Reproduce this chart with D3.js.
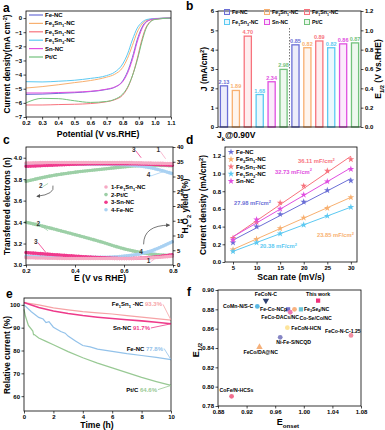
<!DOCTYPE html>
<html><head><meta charset="utf-8">
<script src="https://cdn.jsdelivr.net/npm/d3@7"></script>
<style>
body{margin:0;background:#fff}
svg{display:block}
text{font-family:"Liberation Sans",Arial,sans-serif;font-weight:bold}
</style>
</head><body>
<svg id="fig" width="385" height="430"></svg>
<script>
// ---------- data ----------
const samples = ['Fe-NC', 'Fe_{3}Sn_{1}-NC', 'Fe_{1}Sn_{1}-NC', 'Fe_{1}Sn_{3}-NC', 'Sn-NC', 'Pt/C'];
const sampleColors = ['#6b6fd6', '#f8b070', '#f7737d', '#5cc9f2', '#e04fe0', '#72c27c'];

// a: LSV curves
const lsvV = [0.2, 0.3, 0.4, 0.5, 0.6, 0.7, 0.75, 0.8, 0.83, 0.86, 0.89, 0.92, 0.95, 1.0, 1.1];
const lsvFeNC   = [-5.4, -5.38, -5.33, -5.28, -5.2, -5.05, -4.9, -4.45, -3.8, -2.8, -1.55, -0.65, -0.22, -0.05, 0];
const lsvFe3Sn1 = [-4.95, -4.85, -4.72, -4.57, -4.42, -4.18, -3.98, -3.5, -2.85, -1.95, -1.0, -0.42, -0.15, -0.04, 0];
const lsvFe1Sn1 = [-6.15, -6.15, -6.12, -6.1, -6.05, -5.92, -5.78, -5.45, -4.95, -4.1, -2.9, -1.5, -0.55, -0.08, 0];
const lsvFe1Sn3 = [-4.5, -4.52, -4.47, -4.4, -4.27, -4.07, -3.83, -3.25, -2.55, -1.55, -0.72, -0.3, -0.1, -0.03, 0];
const lsvSnNC   = [-5.3, -5.3, -5.27, -5.24, -5.18, -5.03, -4.88, -4.5, -3.9, -2.95, -1.7, -0.75, -0.25, -0.05, 0];
const lsvPtC    = [-6.0, -5.68, -5.7, -5.85, -5.97, -5.9, -5.75, -5.38, -4.9, -4.1, -3.0, -1.65, -0.62, -0.1, 0];
const lsvAll = [lsvFeNC, lsvFe3Sn1, lsvFe1Sn1, lsvFe1Sn3, lsvSnNC, lsvPtC];

// b: kinetic current and half-wave potential
const jk090 = [2.13, 1.89, 4.70, 1.68, 2.34, 2.98];
const e12 = [0.85, 0.82, 0.89, 0.82, 0.86, 0.87];

// c: RRDE electron number and H2O2 yield
const rrdeV = [0.2, 0.3, 0.4, 0.5, 0.6, 0.7, 0.8];
const cNames = ['1-Fe_{1}Sn_{1}-NC', '2-Pt/C', '3-Sn-NC', '4-Fe-NC'];
const cColors = ['#f6a9c4', '#9ccfa6', '#f0388c', '#a9d1f2'];
const nFe1Sn1 = [3.95, 3.955, 3.955, 3.955, 3.955, 3.95, 3.945];
const nPtC    = [3.78, 3.83, 3.865, 3.89, 3.915, 3.93, 3.925];
const nSnNC   = [3.92, 3.93, 3.94, 3.945, 3.945, 3.94, 3.93];
const nFeNC   = [3.94, 3.94, 3.94, 3.94, 3.935, 3.91, 3.85];
const hFe1Sn1 = [2.5, 2.3, 2.2, 2.2, 2.2, 2.4, 3.0];
const hPtC    = [14.5, 12.5, 10.3, 8.0, 5.5, 3.8, 3.2];
const hSnNC   = [4.2, 3.6, 3.0, 2.5, 2.2, 2.5, 3.5];
const hFeNC   = [3.0, 2.7, 2.6, 2.6, 3.0, 4.5, 8.0];
const nAll = [nFe1Sn1, nPtC, nSnNC, nFeNC];
const hAll = [hFe1Sn1, hPtC, hSnNC, hFeNC];

// d: double layer capacitance
const scanRates = [5, 10, 15, 20, 25, 30];
const dlFeNC   = [0.22, 0.40, 0.54, 0.68, 0.81, 0.92];
const dlFe3Sn1 = [0.14, 0.26, 0.38, 0.50, 0.61, 0.73];
const dlFe1Sn1 = [0.27, 0.45, 0.67, 0.86, 1.03, 1.16];
const dlFe1Sn3 = [0.12, 0.22, 0.32, 0.42, 0.52, 0.62];
const dlSnNC   = [0.25, 0.48, 0.60, 0.76, 0.91, 1.05];
const dlAll = [dlFeNC, dlFe3Sn1, dlFe1Sn1, dlFe1Sn3, dlSnNC];
const cdlText = ['27.98', '23.85', '36.11', '20.38', '32.73'];

// e: chronoamperometry
const eFe1Sn1T = [0, 1, 2, 3, 4, 5, 6, 7, 8, 9, 10];
const eFe1Sn1  = [101, 100, 98.7, 97.8, 97, 96.5, 96, 95.3, 94.6, 94, 93.3];
const eSnNCT   = [0, 1, 2, 3, 4, 5, 6, 7, 8, 9, 10];
const eSnNC    = [101, 98.8, 97.3, 96.2, 95.3, 94.6, 94, 93.5, 93, 92.4, 91.7];
const eFeNCT   = [0, 0.5, 1, 1.3, 1.5, 1.7, 2, 2.5, 2.8, 3, 3.5, 4, 4.5, 5, 6, 7, 8, 9, 10];
const eFeNC    = [100, 97, 94.5, 93.8, 92.2, 92.6, 90.2, 88.3, 87.6, 86.3, 84.2, 82.2, 81.6, 80.6, 79.6, 78.6, 77.8, 77, 76];
const ePtCT    = [0, 0.1, 0.3, 0.6, 0.65, 0.7, 1, 1.5, 2, 3, 4, 5, 6, 7, 8, 9, 10];
const ePtC     = [98, 95, 91, 88.5, 87, 87, 85.5, 84, 82.5, 79.5, 76.8, 74.5, 72.4, 70.3, 68.2, 66.4, 64.7];
const eNames = ['Fe_{1}Sn_{1} -NC', 'Sn-NC', 'Fe-NC', 'Pt/C'];
const eRetention = ['93.3%', '91.7%', '77.8%', '64.6%'];

// f: comparison with literature
const fNames = ['FeCoN-C', 'This work', 'CoMn-N/S-C', 'Fe-Co-NCp', 'FeCo-DACs/NC', 'Co-Se/Co/NC',
  'Fe_{3}Se_{4}/NC', 'FeCoN-HCN', 'Ni-Fe-S/NCQD', 'FeCo/DA@NC', 'FeCo-N-C-1.25', 'CoFe/N-HCSs'];
const fEonset = [0.947, 1.02, 0.935, 0.978, 0.981, 0.987, 0.996, 0.977, 0.967, 0.938, 1.066, 0.899];
const fE12 = [0.889, 0.889, 0.883, 0.880, 0.877, 0.880, 0.880, 0.861, 0.851, 0.841, 0.853, 0.790];

// ---------- helpers ----------
const svg = d3.select('#fig');

function rich(t, str, fs) {
  const parts = str.split(/([_^]\{[^}]*\})/);
  let shift = 0;
  parts.forEach(p => {
    if (!p) return;
    const m = p.match(/^([_^])\{(.*)\}$/);
    if (m) {
      const d = m[1] === '_' ? fs * 0.3 : -fs * 0.4;
      t.append('tspan').attr('dy', d - shift).attr('font-size', fs * 0.68).text(m[2]);
      shift = d;
    } else {
      t.append('tspan').attr('dy', -shift).attr('font-size', fs).text(p);
      shift = 0;
    }
  });
  return t;
}

function label(g, x, y, str, fs, opts = {}) {
  const t = g.append('text').attr('x', x).attr('y', y)
    .attr('font-size', fs).attr('fill', opts.fill || '#000')
    .attr('text-anchor', opts.anchor || 'start');
  return rich(t, str, fs);
}

function vtitle(g, x, y, str, fs = 8.5) {
  const t = g.append('text').attr('transform', `translate(${x},${y}) rotate(-90)`)
    .attr('font-size', fs).attr('text-anchor', 'middle');
  return rich(t, str, fs);
}

function frame(g, xs, ys) {
  const [x0, x1] = xs.range();
  const [y0, y1] = ys.range();
  g.append('rect').attr('x', x0).attr('y', y1).attr('width', x1 - x0).attr('height', y0 - y1)
    .attr('fill', 'none').attr('stroke', '#000').attr('stroke-width', 0.8);
}

function styleAxis(a) {
  a.select('.domain').remove();
  a.selectAll('text').attr('font-size', 6).attr('font-weight', 'bold')
    .attr('font-family', '"Liberation Sans", Arial, sans-serif').attr('fill', '#000');
  a.selectAll('line').attr('stroke', '#000').attr('stroke-width', 0.7);
}

function xAxis(g, xs, ys, ticks, fmt) {
  const a = g.append('g').attr('transform', `translate(0,${ys.range()[0]})`)
    .call(d3.axisBottom(xs).tickValues(ticks).tickFormat(fmt).tickSize(2.5).tickPadding(1));
  styleAxis(a);
}
function yAxis(g, xs, ys, ticks, fmt) {
  const a = g.append('g').attr('transform', `translate(${xs.range()[0]},0)`)
    .call(d3.axisLeft(ys).tickValues(ticks).tickFormat(fmt).tickSize(2.5).tickPadding(1.5));
  styleAxis(a);
}
function yAxisRight(g, xs, ys, ticks, fmt) {
  const a = g.append('g').attr('transform', `translate(${xs.range()[1]},0)`)
    .call(d3.axisRight(ys).tickValues(ticks).tickFormat(fmt).tickSize(2.5).tickPadding(1.5));
  styleAxis(a);
}
function panelLetter(x, y, s) {
  svg.append('text').attr('x', x).attr('y', y).attr('font-size', 12)
    .attr('font-family', '"Liberation Serif", "Times New Roman", serif').text(s);
}
const f1 = d3.format('.1f'), f2 = d3.format('.2f'), f0 = d3.format('d');

// arrow marker
svg.append('defs').append('marker').attr('id', 'arr').attr('viewBox', '0 0 10 10')
  .attr('refX', 8).attr('refY', 5).attr('markerWidth', 5).attr('markerHeight', 5)
  .attr('orient', 'auto').append('path').attr('d', 'M0,0 L10,5 L0,10 z').attr('fill', '#555');

// ---------- a ----------
{
  const g = svg.append('g');
  const x = d3.scaleLinear().domain([0.2, 1.1]).range([26, 171]);
  const y = d3.scaleLinear().domain([-7, 0.5]).range([117, 11]);
  const line = d3.line().x(d => x(d[0])).y(d => y(d[1])).curve(d3.curveMonotoneX);
  lsvAll.forEach((s, i) => {
    g.append('path').attr('d', line(lsvV.map((v, k) => [v, s[k]])))
      .attr('fill', 'none').attr('stroke', sampleColors[i]).attr('stroke-width', 1);
  });
  frame(g, x, y);
  xAxis(g, x, y, d3.range(0.2, 1.15, 0.1), f1);
  yAxis(g, x, y, d3.range(-7, 1, 1), f0);
  samples.forEach((s, i) => {
    const yy = 15 + i * 8.4;
    g.append('line').attr('x1', 29).attr('x2', 43).attr('y1', yy).attr('y2', yy)
      .attr('stroke', sampleColors[i]).attr('stroke-width', 1.2);
    label(g, 45, yy + 2, s, 6);
  });
  label(g, 98, 137, 'Potential (V vs.RHE)', 8.6, { anchor: 'middle' });
  vtitle(g, 10, 64, 'Current density(mA cm^{-2})', 8.3);
  panelLetter(3, 12, 'a');
}

// ---------- b ----------
{
  const g = svg.append('g');
  const xb = d3.scaleBand().domain(d3.range(12)).range([218, 361]).paddingInner(0.4).paddingOuter(0.2);
  const xs = d3.scaleLinear().range([218, 361]);
  const yL = d3.scaleLinear().domain([0, 6]).range([127, 11]);
  const yR = d3.scaleLinear().domain([0, 1.2]).range([127, 11]);
  const bars = jk090.map((v, i) => ({ k: i, v, y: yL(v), t: v.toFixed(2), c: sampleColors[i] }))
    .concat(e12.map((v, i) => ({ k: i + 6, v, y: yR(v), t: v.toFixed(2), c: sampleColors[i] })));
  bars.forEach(b => {
    g.append('rect').attr('x', xb(b.k)).attr('y', b.y).attr('width', xb.bandwidth())
      .attr('height', 127 - b.y).attr('fill', b.c).attr('fill-opacity', 0.12)
      .attr('stroke', b.c).attr('stroke-width', 1.3);
    g.append('text').attr('x', xb(b.k) + xb.bandwidth() / 2).attr('y', b.y - 2)
      .attr('text-anchor', 'middle').attr('font-size', 5.5).attr('fill', b.c).text(b.t);
  });
  const xm = (xb(5) + xb.bandwidth() + xb(6)) / 2;
  g.append('line').attr('x1', xm).attr('x2', xm).attr('y1', 28).attr('y2', 127)
    .attr('stroke', '#555').attr('stroke-width', 0.8).attr('stroke-dasharray', '1.5,1.5');
  frame(g, xs, yL);
  yAxis(g, xs, yL, d3.range(0, 7, 1), f0);
  yAxisRight(g, xs, yR, d3.range(0, 1.25, 0.2), f1);
  samples.forEach((s, i) => {
    const cx = 227 + (i % 3) * 40, cy = 12 + Math.floor(i / 3) * 10;
    g.append('rect').attr('x', cx - 2.5).attr('y', cy - 2.5).attr('width', 5).attr('height', 5)
      .attr('fill', sampleColors[i]).attr('fill-opacity', 0.15).attr('stroke', sampleColors[i]).attr('stroke-width', 1);
    label(g, cx + 5, cy + 2, s, 5.3);
  });
  label(g, 217, 138, 'J_{k}@0.90V', 8.5);
  vtitle(g, 207, 69, 'J (mA/cm^{2})');
  vtitle(g, 381, 69, 'E_{1/2} (V vs.RHE)');
  panelLetter(186, 10, 'b');
}

// ---------- c ----------
{
  const g = svg.append('g');
  const x = d3.scaleLinear().domain([0.2, 0.8]).range([26, 173]);
  const yN = d3.scaleLinear().domain([3.0, 4.1]).range([265, 147]);
  const yH = d3.scaleLinear().domain([0, 40]).range([265, 147]);
  const lineN = d3.line().x(d => x(d[0])).y(d => yN(d[1])).curve(d3.curveMonotoneX);
  const lineH = d3.line().x(d => x(d[0])).y(d => yH(d[1])).curve(d3.curveMonotoneX);
  const band = (d, c) => {
    g.append('path').attr('d', d).attr('fill', 'none').attr('stroke', c)
      .attr('stroke-width', 3).attr('stroke-opacity', 0.45);
    g.append('path').attr('d', d).attr('fill', 'none').attr('stroke', c)
      .attr('stroke-width', 3.6).attr('stroke-linecap', 'round').attr('stroke-dasharray', '0,2.4');
  };
  [1, 3, 2, 0].forEach(i => {
    band(lineN(rrdeV.map((v, k) => [v, nAll[i][k]])), cColors[i]);
    band(lineH(rrdeV.map((v, k) => [v, hAll[i][k]])), cColors[i]);
  });
  frame(g, x, yN);
  xAxis(g, x, yN, [0.2, 0.4, 0.6, 0.8], f1);
  yAxis(g, x, yN, d3.range(3.0, 4.05, 0.2), f1);
  yAxisRight(g, x, yH, d3.range(0, 41, 5), f0);
  cNames.forEach((s, i) => {
    const yy = 189 + i * 7.6;
    g.append('circle').attr('cx', 106).attr('cy', yy - 2).attr('r', 1.8).attr('fill', cColors[i]);
    label(g, 111, yy, s, 5.9);
  });
  // numbered annotations
  const ann = [
    ['3', 0.64, 4.055, 0.67, 4.0], ['1', 0.74, 4.05, 0.77, 3.99], ['4', 0.7, 3.82, 0.76, 3.87],
    ['2', 0.26, 3.72, 0.29, 3.76], ['2', 0.25, 3.36, 0.29, 3.32], ['3', 0.24, 3.2, 0.28, 3.12],
    ['4', 0.67, 3.1, 0.73, 3.12], ['1', 0.7, 3.02, 0.73, 3.065]
  ];
  ann.forEach(a => {
    g.append('text').attr('x', x(a[1])).attr('y', yN(a[2])).attr('font-size', 6.5)
      .attr('text-anchor', 'middle').attr('fill', '#333').text(a[0]);
    g.append('line').attr('x1', x(a[1]) + 2).attr('y1', yN(a[2]) - 1).attr('x2', x(a[3])).attr('y2', yN(a[4]))
      .attr('stroke', cColors[+a[0] - 1]).attr('stroke-width', 0.8);
  });
  const p1 = d3.path();
  p1.moveTo(x(0.31), yN(3.74)); p1.quadraticCurveTo(x(0.32), yN(3.66), x(0.245), yN(3.64));
  g.append('path').attr('d', p1.toString()).attr('fill', 'none').attr('stroke', '#555')
    .attr('stroke-width', 0.8).attr('marker-end', 'url(#arr)');
  const p2 = d3.path();
  p2.moveTo(x(0.68), yH(7)); p2.quadraticCurveTo(x(0.68), yH(13.5), x(0.785), yH(13.5));
  g.append('path').attr('d', p2.toString()).attr('fill', 'none').attr('stroke', '#555')
    .attr('stroke-width', 0.8).attr('marker-end', 'url(#arr)');
  label(g, 100, 281, 'E (V vs RHE)', 8.6, { anchor: 'middle' });
  vtitle(g, 10, 206, 'Transferred electrons (n)', 8.3);
  vtitle(g, 188, 206, 'H_{2}O_{2} yield (%)', 8.3);
  panelLetter(3, 144, 'c');
}

// ---------- d ----------
{
  const g = svg.append('g');
  const x = d3.scaleLinear().domain([3.3, 31.3]).range([225, 357]);
  const y = d3.scaleLinear().domain([0, 1.3]).range([262, 147]);
  const star = d3.symbol().type(d3.symbolStar).size(14);
  const xm = d3.mean(scanRates);
  dlAll.forEach((s, i) => {
    const c = sampleColors[i];
    const ym = d3.mean(s);
    const slope = d3.sum(scanRates, (v, k) => (v - xm) * (s[k] - ym)) / d3.sum(scanRates, v => (v - xm) ** 2);
    const fit = v => ym + slope * (v - xm);
    g.append('line').attr('x1', x(5)).attr('x2', x(30)).attr('y1', y(fit(5))).attr('y2', y(fit(30)))
      .attr('stroke', c).attr('stroke-width', 1);
    scanRates.forEach((v, k) => {
      g.append('path').attr('d', star()).attr('transform', `translate(${x(v)},${y(s[k])})`).attr('fill', c);
    });
  });
  frame(g, x, y);
  xAxis(g, x, y, scanRates, f0);
  yAxis(g, x, y, d3.range(0, 1.25, 0.2), f1);
  samples.slice(0, 5).forEach((s, i) => {
    const yy = 154 + i * 7.3;
    g.append('path').attr('d', star()).attr('transform', `translate(${231},${yy - 2})`).attr('fill', sampleColors[i]);
    label(g, 236, yy, s, 6);
  });
  const cdlPos = [[5.2, 0.645], [22.8, 0.28], [18.8, 1.12], [10.7, 0.155], [13.9, 1.0]];
  cdlText.forEach((t, i) => {
    label(g, x(cdlPos[i][0]), y(cdlPos[i][1]), t + ' mF/cm^{2}', 5.8, { fill: sampleColors[i] });
  });
  label(g, 291, 280, 'Scan rate (mV/s)', 8.6, { anchor: 'middle' });
  vtitle(g, 206, 205, 'Current density (mA/cm^{2})', 8.3);
  panelLetter(186, 144, 'd');
}

// ---------- e ----------
{
  const g = svg.append('g');
  const x = d3.scaleLinear().domain([0, 10]).range([24, 171]);
  const y = d3.scaleLinear().domain([53.5, 103]).range([411, 298]);
  const line = d3.line().x(d => x(d[0])).y(d => y(d[1]));
  const curves = [[eFe1Sn1T, eFe1Sn1, '#f6a3a6'], [eSnNCT, eSnNC, '#ee3a8a'],
    [eFeNCT, eFeNC, '#93c2ea'], [ePtCT, ePtC, '#98c994']];
  [3, 2, 0, 1].forEach(i => {
    const [t, v, c] = curves[i];
    g.append('path').attr('d', line(t.map((tt, k) => [tt, v[k]])))
      .attr('fill', 'none').attr('stroke', c).attr('stroke-width', i === 1 ? 1.6 : 1.2);
  });
  frame(g, x, y);
  xAxis(g, x, y, d3.range(0, 11, 2), f0);
  yAxis(g, x, y, d3.range(60, 101, 10), f0);
  const lblPos = [[9.39, 99.3], [8.57, 89.0], [9.46, 80.0], [9.05, 62.0]];
  curves.forEach((cv, i) => {
    const [lx, ly] = lblPos[i];
    const t = label(g, x(lx), y(ly), eNames[i] + ' ', 6, { anchor: 'end' });
    t.append('tspan').attr('fill', cv[2]).text(eRetention[i]);
    const last = cv[1][cv[1].length - 1];
    g.append('line').attr('x1', x(lx) + 1).attr('y1', y(ly) - 2).attr('x2', x(10)).attr('y2', y(last))
      .attr('stroke', cv[2]).attr('stroke-width', 0.8);
  });
  label(g, 97, 428, 'Time (h)', 8.6, { anchor: 'middle' });
  vtitle(g, 10, 355, 'Relative current (%)', 8.3);
  panelLetter(6, 298, 'e');
}

// ---------- f ----------
{
  const g = svg.append('g');
  const x = d3.scaleLinear().domain([0.88, 1.08]).range([218, 361]);
  const y = d3.scaleLinear().domain([0.78, 0.90]).range([406, 290]);
  const fColors = ['#2d3e70', '#f0307a', '#5ab8e4', '#7474c8', '#ec7ab2', '#f8b27e',
    '#6cc4d8', '#fde49a', '#8585c4', '#f5b07a', '#f38ea2', '#f26e8e'];
  const fShapes = [d3.symbolTriangle, d3.symbolSquare, d3.symbolCircle, d3.symbolSquare, d3.symbolCircle,
    d3.symbolCircle, d3.symbolSquare, d3.symbolCircle, d3.symbolCircle, d3.symbolTriangle, d3.symbolCircle, d3.symbolCircle];
  // label layout: dx, dy, anchor
  const fLbl = [[0, -5, 'middle'], [0, -5, 'middle'], [-4, 2, 'end'], [-1, 2, 'end'], [-10, 7, 'middle'],
    [5, 10.5, 'start'], [3, 1.5, 'start'], [4, 2, 'start'], [-4, 7, 'start'], [-16, 7, 'start'], [-26, -2, 'start'], [-12, -4, 'start']];
  fNames.forEach((n, i) => {
    const px = x(fEonset[i]), py = y(fE12[i]);
    g.append('path').attr('d', d3.symbol().type(fShapes[i]).size(18)())
      .attr('transform', `translate(${px},${py})` + (i === 0 ? ' rotate(180)' : ''))
      .attr('fill', fColors[i]);
    label(g, px + fLbl[i][0], py + fLbl[i][1], n, 5.2, { anchor: fLbl[i][2] });
  });
  frame(g, x, y);
  xAxis(g, x, y, [0.88, 0.92, 0.96, 1.00, 1.04, 1.08], f2);
  yAxis(g, x, y, d3.range(0.78, 0.905, 0.02), f2);
  label(g, 288, 425, 'E_{onset}', 9, { anchor: 'middle' });
  vtitle(g, 199, 350, 'E_{1/2}', 9);
  panelLetter(187, 296, 'f');
}
</script>
</body></html>
